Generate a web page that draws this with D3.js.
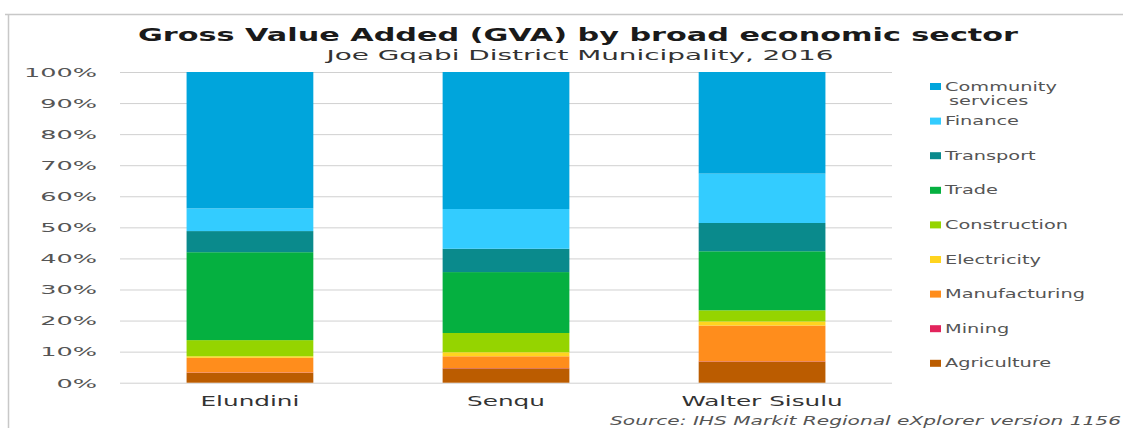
<!DOCTYPE html>
<html>
<head>
<meta charset="utf-8">
<script src="https://cdn.jsdelivr.net/npm/d3@7"></script>
<style>
  html, body { margin: 0; padding: 0; background: #fff; }
  svg { display: block; }
</style>
</head>
<body>
<div id="chart"></div>
<script>
// municipalities
const municipalities = ["Elundini", "Senqu", "Walter Sisulu"];

// sectors, bottom of the stack first
const sectors = ["Agriculture", "Mining", "Manufacturing", "Electricity", "Construction",
                 "Trade", "Transport", "Finance", "Community services"];

// share of GVA (%) per sector, same order as municipalities
const agriculture = [3.2, 4.6, 6.8];
const mining = [0.1, 0.1, 0.1];
const manufacturing = [4.7, 3.8, 11.5];
const electricity = [0.5, 1.3, 1.3];
const construction = [5.2, 6.2, 3.6];
const trade = [28.3, 19.6, 19.0];
const transport = [6.8, 7.5, 9.1];
const finance = [7.3, 12.8, 15.9];
const community = [43.9, 44.1, 32.7];

const yTicks = [0, 0.1, 0.2, 0.3, 0.4, 0.5, 0.6, 0.7, 0.8, 0.9, 1];

const colors = ["#bb5c00", "#e2245c", "#ff8d1c", "#ffd41f", "#95d400",
                "#05b040", "#0a8a8c", "#33ccff", "#00a5dc"];

const seriesValues = [agriculture, mining, manufacturing, electricity, construction,
                      trade, transport, finance, community];

const width = 1123, height = 428;
const plot = { left: 120, right: 892, top: 72, bottom: 382.7 };

const rows = municipalities.map((m, i) => {
    const row = { name: m };
    sectors.forEach((s, j) => { row[s] = seriesValues[j][i] / 100; });
    return row;
});

const svg = d3.select("#chart").append("svg")
    .attr("width", width).attr("height", height)
    .style("font-family", "'DejaVu Sans', Verdana, sans-serif");

// widen the text horizontally, the reference picture is stretched
function stretch(sel, k) {
    sel.each(function () {
        const w = this.getComputedTextLength();
        d3.select(this).attr("textLength", w * k).attr("lengthAdjust", "spacingAndGlyphs");
    });
}

// frame
svg.append("line").attr("x1", 5).attr("x2", width).attr("y1", 14.5).attr("y2", 14.5)
    .attr("stroke", "#c8c8c8").attr("stroke-width", 1.5);
svg.append("line").attr("x1", 8.5).attr("x2", 8.5).attr("y1", 14).attr("y2", height)
    .attr("stroke", "#c8c8c8").attr("stroke-width", 1.5);

const x = d3.scaleBand().domain(municipalities).range([plot.left, plot.right])
    .paddingInner(0.505).paddingOuter(0.26);
const y = d3.scaleLinear().domain([0, 1]).range([plot.bottom, plot.top]);
const color = d3.scaleOrdinal().domain(sectors).range(colors);

// grid
const grid = svg.append("g").attr("transform", `translate(${plot.left},0)`)
    .call(d3.axisLeft(y).tickValues(yTicks).tickSize(-(plot.right - plot.left)).tickFormat(""));
grid.select(".domain").remove();
grid.selectAll(".tick line").attr("stroke", "#d0d0d0").attr("stroke-width", 1);

// y axis labels
const yAxis = svg.append("g").attr("transform", "translate(97,0)")
    .call(d3.axisLeft(y).tickValues(yTicks).tickSize(0).tickPadding(0).tickFormat(d3.format(".0%")));
yAxis.select(".domain").remove();
yAxis.selectAll("text").attr("font-size", 12).attr("fill", "#555")
    .attr("font-family", "'DejaVu Sans', sans-serif").attr("dy", "0.36em");
stretch(yAxis.selectAll("text"), 2.13);

// stacked bars
const stack = d3.stack().keys(sectors);
const layers = stack(rows);

svg.append("g").selectAll("g").data(layers).join("g")
    .attr("fill", d => color(d.key))
    .selectAll("rect").data(d => d).join("rect")
    .attr("x", d => x(d.data.name))
    .attr("width", x.bandwidth())
    .attr("y", d => y(d[1]))
    .attr("height", d => y(d[0]) - y(d[1]));

// x axis labels
const xAxis = svg.append("g").attr("transform", `translate(0,${plot.bottom})`)
    .call(d3.axisBottom(x).tickSize(0).tickPadding(0));
xAxis.select(".domain").remove();
xAxis.selectAll("text").attr("font-size", 13.5).attr("fill", "#333")
    .attr("font-family", "'DejaVu Sans', sans-serif").attr("dy", 0).attr("y", 23.5);
stretch(xAxis.selectAll("text"), 1.83);

// title
svg.append("text").attr("x", 578).attr("y", 41).attr("text-anchor", "middle")
    .attr("font-size", 17.5).attr("font-weight", "bold").attr("fill", "#1a1a1a")
    .attr("textLength", 880).attr("lengthAdjust", "spacingAndGlyphs")
    .text("Gross Value Added (GVA) by broad economic sector");
svg.append("text").attr("x", 580).attr("y", 59.5).attr("text-anchor", "middle")
    .attr("font-size", 14.5).attr("fill", "#333")
    .attr("textLength", 507).attr("lengthAdjust", "spacingAndGlyphs")
    .text("Joe Gqabi District Municipality, 2016");

// legend, top item first
const legendItems = sectors.slice().reverse();
const legend = svg.append("g").attr("transform", "translate(930,86.5)");
const item = legend.selectAll("g").data(legendItems).join("g")
    .attr("transform", (d, i) => `translate(0,${i * 34.6})`);
item.append("rect").attr("x", 0).attr("y", -3.5).attr("width", 11).attr("height", 7)
    .attr("fill", d => color(d));
const labels = item.append("text").attr("font-size", 11.5).attr("fill", "#555");
labels.each(function (d) {
    const t = d3.select(this);
    const parts = d === "Community services" ? ["Community", "services"] : [d];
    parts.forEach((p, i) => {
        t.append("tspan").attr("x", i === 0 ? 15 : 19).attr("y", 0)
            .attr("dy", i === 0 ? "0.36em" : "1.58em").text(p);
    });
});
stretch(labels.selectAll("tspan"), 1.68);

// source
svg.append("text").attr("x", 1121).attr("y", 425).attr("text-anchor", "end")
    .attr("font-size", 12).attr("font-style", "italic").attr("fill", "#555")
    .attr("textLength", 511).attr("lengthAdjust", "spacingAndGlyphs")
    .text("Source: IHS Markit Regional eXplorer version 1156");
</script>
</body>
</html>
